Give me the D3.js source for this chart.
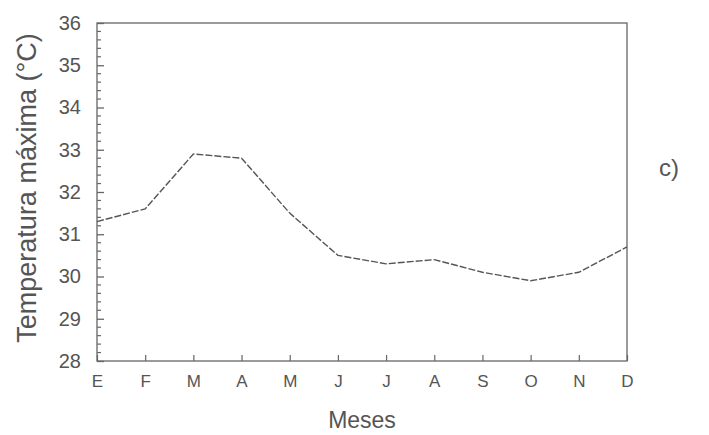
<!DOCTYPE html>
<html>
<head>
<meta charset="utf-8">
<title>Temperatura máxima</title>
<script src="https://d3js.org/d3.v7.min.js"></script>
<style>
  body { margin: 0; background: #fff; }
  text { font-family: "Liberation Sans", Arial, sans-serif; fill: #555; }
</style>
</head>
<body>
<div id="chart"></div>
<script>
// datos
let meses = ["E", "F", "M", "A", "M", "J", "J", "A", "S", "O", "N", "D"];
let tmax = [31.3, 31.6, 32.9, 32.8, 31.5, 30.5, 30.3, 30.4, 30.1, 29.9, 30.1, 30.7];
let yTicks = [28, 29, 30, 31, 32, 33, 34, 35, 36];

let margin = {top: 23, right: 82, bottom: 74, left: 97};
let W = 709, H = 435;
let w = W - margin.left - margin.right;
let h = H - margin.top - margin.bottom;

let svg = d3.select("#chart").append("svg")
    .attr("width", W).attr("height", H);
let g = svg.append("g")
    .attr("transform", "translate(" + margin.left + "," + margin.top + ")");

let x = d3.scalePoint().domain(d3.range(meses.length)).range([0, w]);
let y = d3.scaleLinear().domain([28, 36]).range([h, 0]);

let ink = "#666";
let font = "'Liberation Sans', Arial, sans-serif";

// marco
g.append("rect")
    .attr("width", w).attr("height", h)
    .attr("fill", "none").attr("stroke", ink).attr("stroke-width", 1.3);

// ticks menores del eje y (cada 0.2)
let minor = d3.range(28, 36.001, 0.2).filter(v => Math.abs(v - Math.round(v)) > 0.01);
g.append("g").selectAll("line").data(minor).enter().append("line")
    .attr("x1", 0).attr("x2", 4)
    .attr("y1", d => y(d)).attr("y2", d => y(d))
    .attr("stroke", ink).attr("stroke-width", 1.2);

// eje y
let yAxis = g.append("g")
    .call(d3.axisLeft(y).tickValues(yTicks).tickSize(-7).tickPadding(16).tickFormat(d3.format("d")));
yAxis.select(".domain").remove();
yAxis.selectAll("line").attr("stroke", ink).attr("stroke-width", 1.3);
yAxis.selectAll("text").attr("font-size", 20).attr("fill", "#555").style("font-family", font);

// eje x
let xAxis = g.append("g")
    .attr("transform", "translate(0," + h + ")")
    .call(d3.axisBottom(x).tickSize(-6).tickPadding(14).tickFormat(i => meses[i]));
xAxis.select(".domain").remove();
xAxis.selectAll("line").attr("stroke", ink).attr("stroke-width", 1.2);
xAxis.selectAll("text").attr("font-size", 17).attr("fill", "#555").style("font-family", font);

// línea
let line = d3.line().x((d, i) => x(i)).y(d => y(d));
g.append("path")
    .datum(tmax)
    .attr("d", line)
    .attr("fill", "none")
    .attr("stroke", "#555")
    .attr("stroke-width", 1.4)
    .attr("stroke-dasharray", "7,2");

// títulos
svg.append("text")
    .attr("transform", "translate(36,188) rotate(-90)")
    .attr("text-anchor", "middle")
    .attr("font-size", 27)
    .text("Temperatura máxima (°C)");

svg.append("text")
    .attr("x", margin.left + w / 2)
    .attr("y", 428)
    .attr("text-anchor", "middle")
    .attr("font-size", 23)
    .text("Meses");

svg.append("text")
    .attr("x", 669)
    .attr("y", 176)
    .attr("text-anchor", "middle")
    .attr("font-size", 24)
    .text("c)");
</script>
</body>
</html>
